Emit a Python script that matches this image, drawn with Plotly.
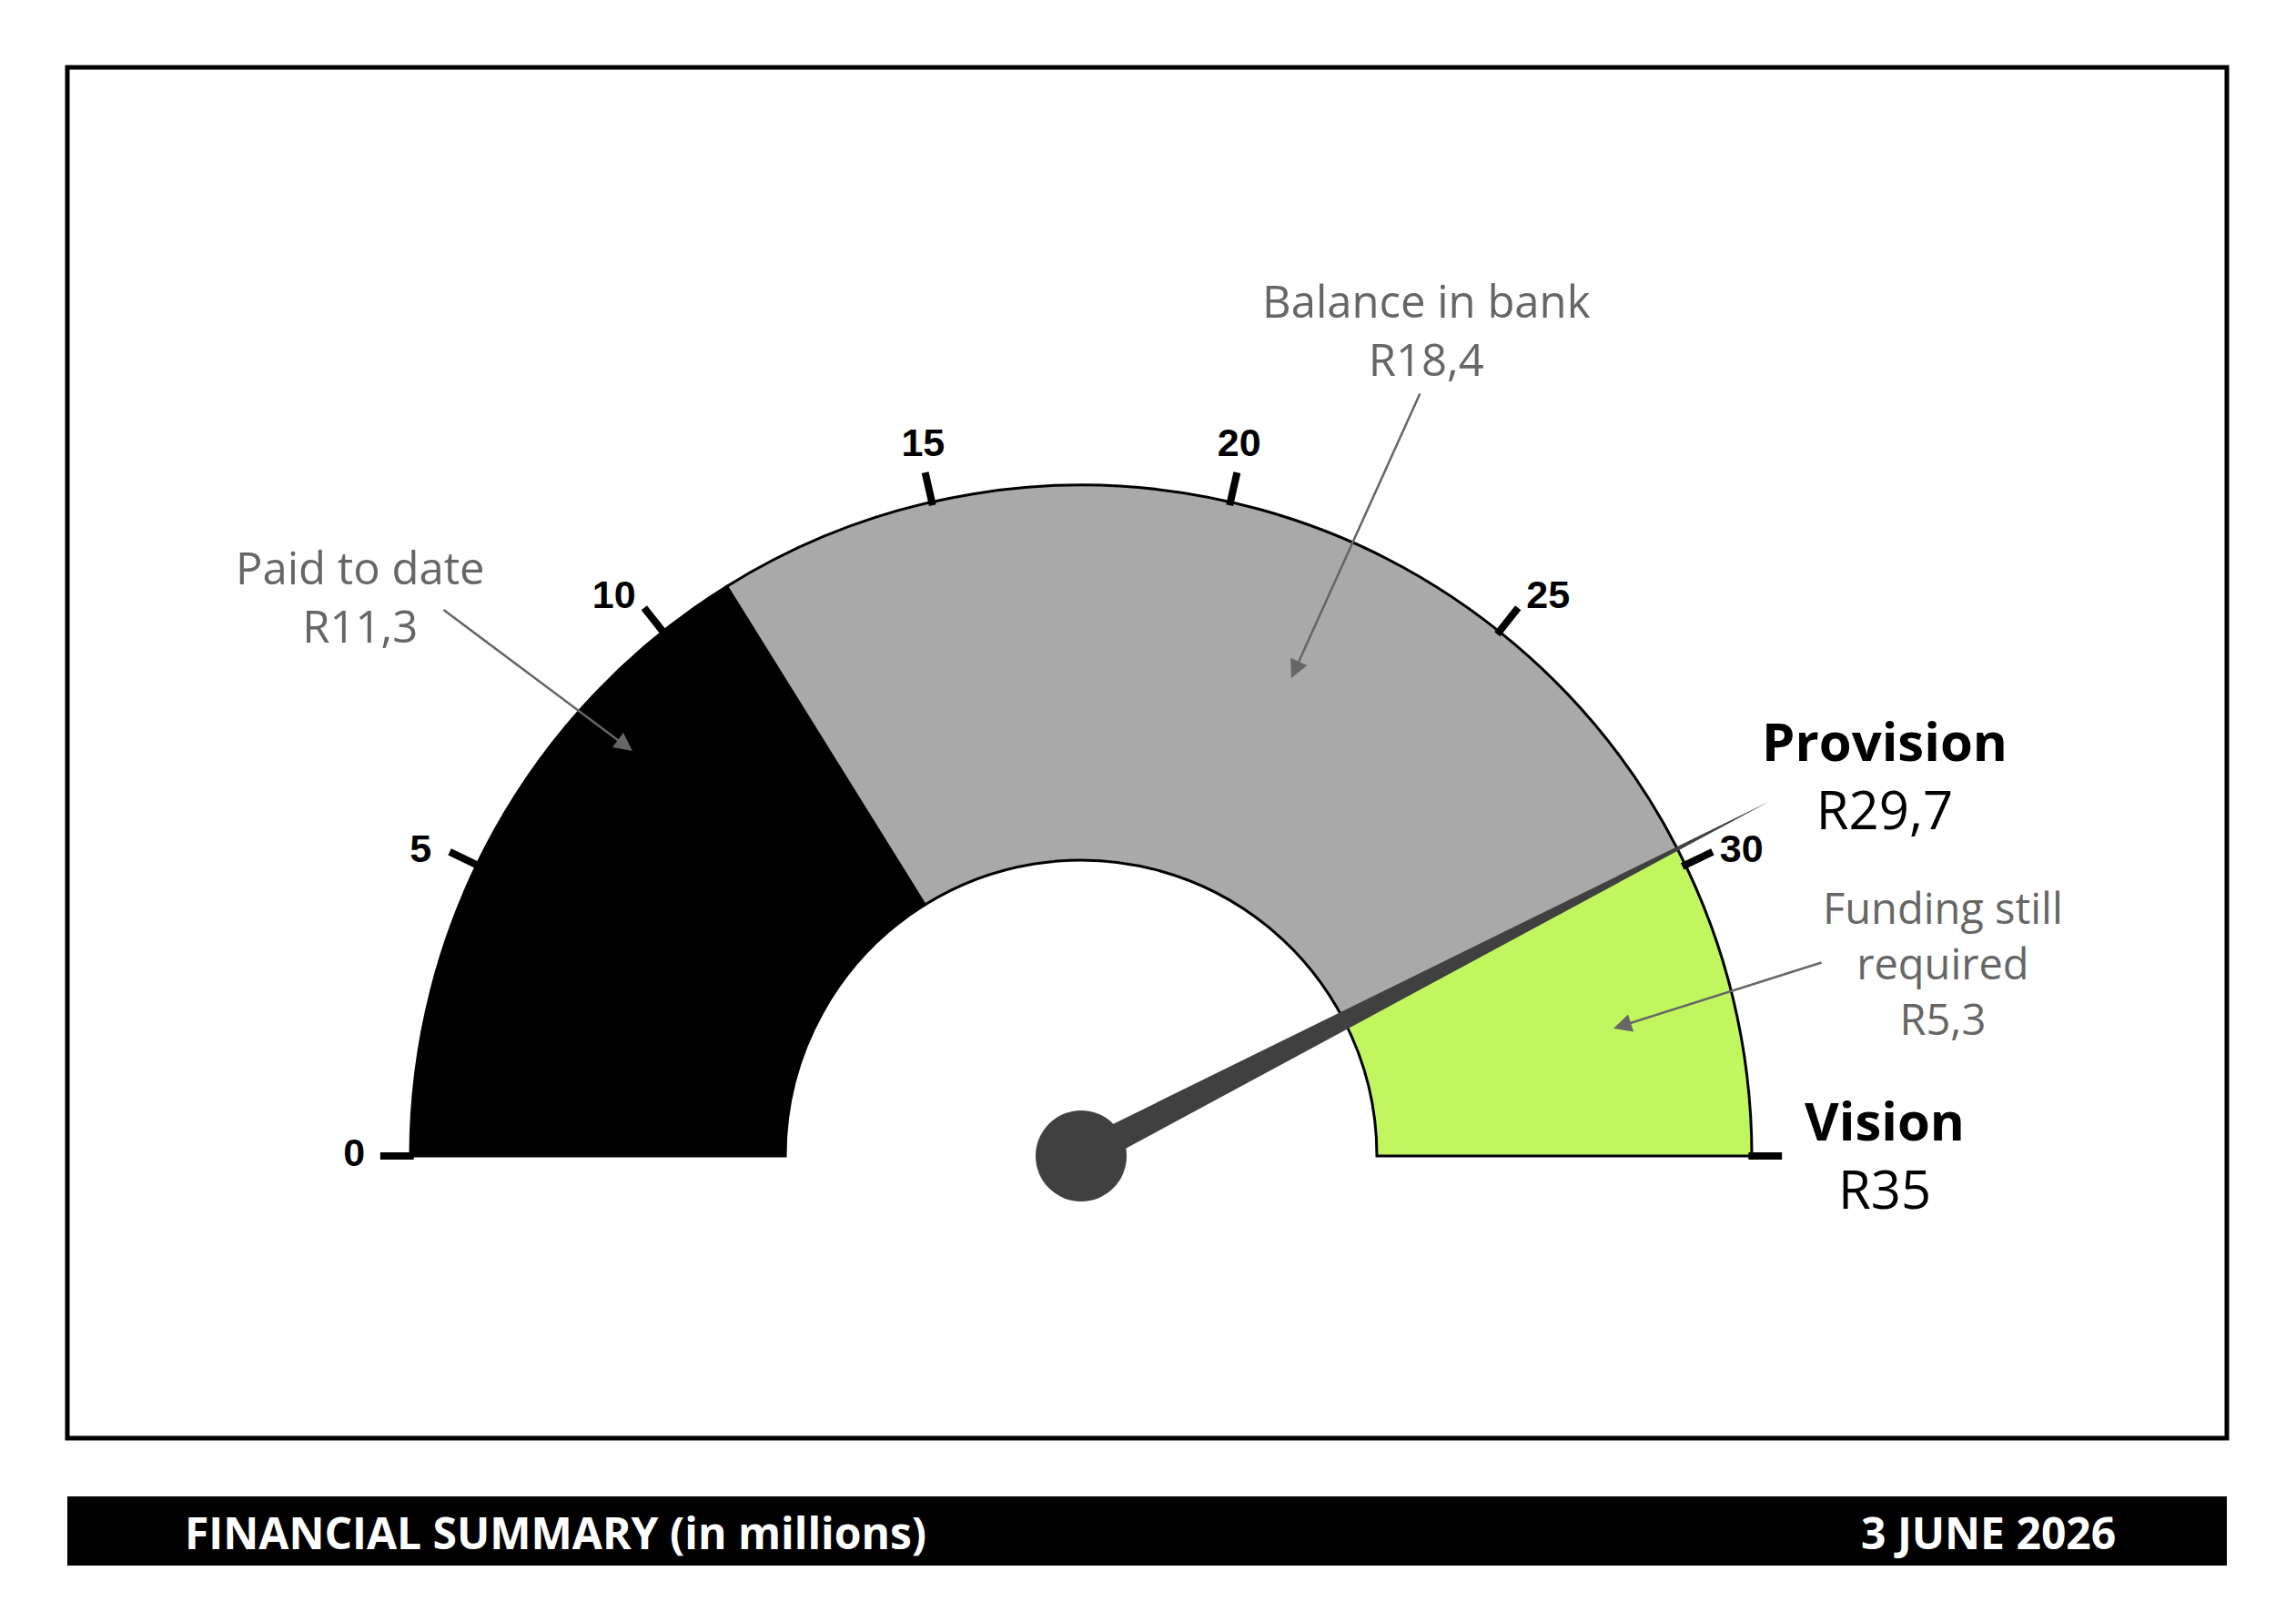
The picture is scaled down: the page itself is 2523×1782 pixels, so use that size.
import numpy as np
import plotly.graph_objects as go

# ---------------- data ----------------
segment_names = ["Paid to date", "Balance in bank", "Funding still required"]
segment_values = [11.3, 18.4, 5.3]
segment_colors = ["#000000", "#a9a9a9", "#c1f65f"]
gauge_max = 35
needle_value = 29.7
needle_name = "Provision"
max_name = "Vision"
tick_values = [0, 5, 10, 15, 20, 25, 30, 35]
tick_labels = ["0", "5", "10", "15", "20", "25", "30", ""]
footer_left = "FINANCIAL SUMMARY (in millions)"
footer_right = "3 JUNE 2026"

# ---------------- layout constants (pixels / styling) ----------------
W, H = 2523, 1782
CX, CY, R = 1188, 1270, 737      # gauge centre / outer radius in px
HOLE = 325 / R                    # inner radius fraction
RMAX = 1.16                       # radial range max (needle tip room)
LOW = 15                          # sector extends below horizontal (deg)
LABEL_NUDGE = [0, 1.0, 1.4, -0.3, -0.3, 1.4, 1.0, 0]   # label shift toward horizontal (deg)


def deg(v):
    return v / gauge_max * 180.0


def money(v):
    s = f"{v:.1f}".rstrip("0").rstrip(".")
    return "R" + s.replace(".", ",")


def pap(x, y):
    return x / W, 1 - y / H


fig = go.Figure()

# gauge segments
starts = np.cumsum([0] + segment_values[:-1])
fig.add_trace(go.Barpolar(
    r=[1 - HOLE] * len(segment_values),
    base=[HOLE] * len(segment_values),
    theta=[deg(s + v / 2) for s, v in zip(starts, segment_values)],
    width=[deg(v) for v in segment_values],
    marker=dict(color=segment_colors, line=dict(color="black", width=3)),
    hoverinfo="skip", name="segments",
))

# tick marks
tr, tt = [], []
for v in tick_values:
    tr += [0.995, 1.045, None]
    tt += [deg(v), deg(v), None]
fig.add_trace(go.Scatterpolar(
    r=tr, theta=tt, mode="lines",
    line=dict(color="black", width=8), hoverinfo="skip",
))

# tick labels
lab_theta = []
for v, n in zip(tick_values, LABEL_NUDGE):
    a = deg(v)
    lab_theta.append(a - n if a < 90 else a + n)
fig.add_trace(go.Scatterpolar(
    r=[1.084] * len(tick_values), theta=lab_theta,
    mode="text", text=tick_labels, textposition="middle center",
    textfont=dict(family="Liberation Sans", size=43, color="black", weight="bold"),
    cliponaxis=False, hoverinfo="skip",
))

# needle
tn = deg(needle_value)
hw = 16 / R
fig.add_trace(go.Scatterpolar(
    r=[1.155, hw, hw, 1.155], theta=[tn, tn - 90, tn + 90, tn],
    mode="lines", fill="toself", fillcolor="#404040",
    line=dict(color="#404040", width=0), hoverinfo="skip",
))
fig.add_trace(go.Scatterpolar(
    r=[0], theta=[0], mode="markers",
    marker=dict(size=100, color="#404040", line=dict(width=0)),
    cliponaxis=False, hoverinfo="skip",
))

rpx = RMAX * R
x0, x1 = (CX - rpx) / W, (CX + rpx) / W
ytop, ybot = CY - rpx, CY + rpx * np.sin(np.radians(LOW))

fig.update_layout(
    width=W, height=H, margin=dict(l=0, r=0, t=0, b=0),
    paper_bgcolor="white", showlegend=False,
    polar=dict(
        domain=dict(x=[x0, x1], y=[1 - ybot / H, 1 - ytop / H]),
        sector=[-LOW, 180 + LOW],
        bgcolor="rgba(0,0,0,0)",
        radialaxis=dict(visible=False, range=[0, RMAX]),
        angularaxis=dict(visible=False, rotation=180, direction="clockwise",
                         showgrid=False, showline=False, ticks=""),
    ),
)

GRAY = "#666666"
LBL = dict(family="Open Sans", size=49, color=GRAY)
LBL_S = dict(family="Open Sans", size=47, color=GRAY)
BIG = dict(family="Open Sans", size=58, color="black")

ann = []


def text(x, y, s, font, xanchor="center"):
    px_, py_ = pap(x, y)
    ann.append(dict(x=px_, y=py_, xref="paper", yref="paper", text=s,
                    showarrow=False, font=font, xanchor=xanchor, yanchor="middle",
                    align="center"))


def arrow(hx, hy, tx, ty):
    px_, py_ = pap(hx, hy)
    ann.append(dict(x=px_, y=py_, xref="paper", yref="paper", text="",
                    showarrow=True, ax=tx - hx, ay=ty - hy, axref="pixel", ayref="pixel",
                    arrowhead=2, arrowsize=1.6, arrowwidth=2.5, arrowcolor=GRAY,
                    standoff=0, startstandoff=0))


# Paid to date
text(396, 655, segment_names[0] + "<br>" + money(segment_values[0]), LBL)
arrow(695, 825, 486, 669)
# Balance in bank
text(1567, 362, segment_names[1] + "<br>" + money(segment_values[1]), LBL)
arrow(1419, 745, 1561, 431)
# Funding still required
text(2135, 1058, "Funding still<br>required<br>" + money(segment_values[2]), LBL_S)
arrow(1773, 1130, 2003, 1057)
# Provision / Vision
text(2071, 851, "<b>" + needle_name + "</b><br>" + money(needle_value), BIG)
text(2071, 1268, "<b>" + max_name + "</b><br>" + money(gauge_max), BIG)

# footer texts
FOOT = dict(family="Open Sans", size=48, color="white", weight="bold")
text(201, 1683, footer_left, FOOT, xanchor="left")
text(2327, 1683, footer_right, FOOT, xanchor="right")

fig.update_layout(annotations=ann)

# frame and footer bar
fx0, fy1 = pap(74, 74)
fx1, fy0 = pap(2447, 1580)
bx0, by1 = pap(74, 1644)
bx1, by0 = pap(2447, 1720)
fig.update_layout(shapes=[
    dict(type="rect", xref="paper", yref="paper", x0=fx0, x1=fx1, y0=fy0, y1=fy1,
         line=dict(color="black", width=5), fillcolor="rgba(0,0,0,0)", layer="below"),
    dict(type="rect", xref="paper", yref="paper", x0=bx0, x1=bx1, y0=by0, y1=by1,
         line=dict(width=0), fillcolor="black", layer="below"),
])

fig.write_html("out.html")
